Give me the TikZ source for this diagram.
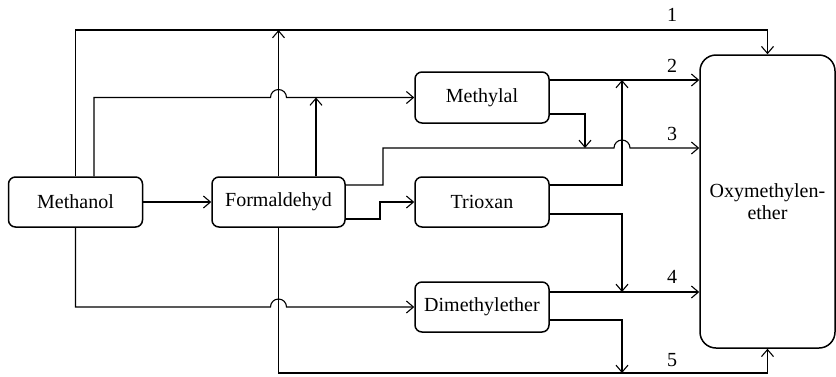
\documentclass[tikz,border=0pt]{standalone}
\usepackage{fontspec}
\setmainfont{Liberation Serif}
\usetikzlibrary{arrows.meta,calc}
\tikzset{
  box/.style={draw,line width=1.5pt,rounded corners=7pt,minimum width=134pt,minimum height=50pt,inner sep=0pt,font=\rmfamily\fontsize{20}{22}\selectfont},
  conn/.style={line width=1.1pt,-{Straight Barb[length=7pt,width=12pt,line width=1.1pt]}},
  lbl/.style={font=\rmfamily\fontsize{20}{22}\selectfont,inner sep=0pt}
}
\begin{document}
\begin{tikzpicture}[x=1pt,y=-1pt]
\useasboundingbox (0,0) rectangle (836,376);
\node[box] (meth) at (75.5,202) {Methanol};
\node[box,minimum width=133pt] (form) at (278.5,202) {Formaldehyd};
\node[box,minimum height=51pt] (methylal) at (482,97.5) {Methylal};
\node[box] (trioxan) at (482,202) {Trioxan};
\node[box] (dme) at (482,307) {Dimethylether};
\node[box,minimum width=135pt,minimum height=293pt,rounded corners=16pt,align=center] (oxy) at (767.5,201.5) {Oxymethylen-\\ether};
\coordinate (top) at (0,30);
\coordinate (bot) at (0,373);
\coordinate (colA) at (383,0);
\coordinate (colB) at (585,0);
\coordinate (colC) at (622,0);
\coordinate (colD) at (380,0);
\coordinate (m2) at ([xshift=18.5pt]meth.north);
\coordinate (f2) at ([xshift=37.5pt]form.north);
\coordinate (fe1) at ([yshift=17pt]form.east);
\coordinate (fe2) at ([yshift=-17pt]form.east);
\coordinate (me1) at ([yshift=17.5pt]methylal.east);
\coordinate (me2) at ([yshift=-16.5pt]methylal.east);
\coordinate (te1) at ([yshift=17pt]trioxan.east);
\coordinate (te2) at ([yshift=-12pt]trioxan.east);
\coordinate (de1) at ([yshift=15pt]dme.east);
\coordinate (de2) at ([yshift=-13pt]dme.east);
\coordinate (l3) at (0,148);
% 1
\draw[conn] (meth.north) |- (top -| oxy.north) -- (oxy.north);
\node[lbl] (n1) at (672,15) {1};
% formaldehyd up
\draw[conn] (form.north) -- (form.north |- top);
\draw[conn] (f2) -- (f2 |- methylal.west);
% methanol to methylal
\draw[conn] (m2) |- ($(form.north |- methylal.west)+(-8,0)$) arc[start angle=180,end angle=0,radius=8pt] -- (methylal.west);
% methanol to formaldehyd
\draw[conn] (meth.east) -- (form.west);
% 2
\draw[conn] (me1) -- (me1 -| oxy.west);
\node[lbl] (n2) at (672,66) {2};
% 3
\draw[conn] (fe1) -| (colA |- l3) -- ($(colC |- l3)+(-8,0)$) arc[start angle=180,end angle=0,radius=8pt] -- (l3 -| oxy.west);
\node[lbl] (n3) at (672,134) {3};
\draw[conn] (me2) -| (colB |- l3);
% trioxan
\draw[conn] (te1) -| (colC |- me1);
\draw[conn] (te2) -| (colC |- de1);
\draw[conn] (fe2) -| (colD |- trioxan.west) -- (trioxan.west);
% 4
\draw[conn] (de1) -- (de1 -| oxy.west);
\node[lbl] (n4) at (672,277) {4};
\draw[conn] (de2) -| (colC |- bot);
% 5
\draw[conn] (form.south) |- (bot -| oxy.south) -- (oxy.south);
\node[lbl] (n5) at (672,360) {5};
% methanol to dme
\draw[conn] (meth.south) |- ($(form.south |- dme.west)+(-8,0)$) arc[start angle=180,end angle=0,radius=8pt] -- (dme.west);
\end{tikzpicture}
\end{document}
